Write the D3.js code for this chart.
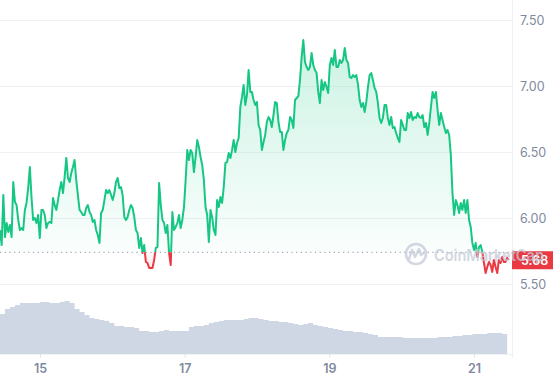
<!DOCTYPE html>
<html>
<head>
<meta charset="utf-8">
<script src="https://cdn.jsdelivr.net/npm/d3@7"></script>
<style>
body { margin: 0; background: #fff; }
svg { display: block; font-family: Inter, "Noto Sans", sans-serif; }
</style>
</head>
<body>
<div id="chart"></div>
<script>
// price every 33 minutes, starting 14 Jan 10:44
const prices = [
  5.909, 5.795, 6.174, 5.856, 5.962, 5.894, 5.947, 5.856, 6.273, 6.121,
  6.098, 5.985, 5.909, 5.924, 5.909, 6.061, 6.114, 6.227, 6.386, 6.159,
  5.985, 6.000, 5.962, 6.023, 5.848, 6.061, 6.061, 6.023, 5.924, 5.962,
  5.970, 5.962, 6.152, 6.098, 6.061, 6.136, 6.212, 6.273, 6.189, 6.311,
  6.455, 6.303, 6.273, 6.341, 6.386, 6.439, 6.288, 6.174, 6.061, 6.045,
  6.023, 6.023, 6.076, 6.098, 6.045, 6.023, 5.970, 5.985, 5.909, 5.871,
  5.811, 6.038, 6.061, 6.136, 6.212, 6.189, 6.212, 6.174, 6.136, 6.189,
  6.273, 6.303, 6.227, 6.235, 6.174, 6.008, 5.985, 6.008, 6.061, 6.098,
  6.076, 6.008, 5.909, 5.886, 5.773, 5.848, 5.735, 5.795, 5.667, 5.659,
  5.621, 5.621, 5.621, 5.682, 5.773, 5.780, 6.265, 6.098, 5.985, 5.962,
  5.886, 5.947, 5.735, 5.644, 6.045, 5.909, 5.932, 5.962, 6.023, 5.924,
  5.985, 6.083, 6.288, 6.515, 6.439, 6.515, 6.492, 6.348, 6.462, 6.591,
  6.538, 6.462, 6.402, 6.288, 6.083, 6.023, 5.818, 6.061, 6.008, 5.909,
  5.871, 6.136, 6.083, 6.159, 6.114, 6.235, 6.417, 6.424, 6.492, 6.455,
  6.515, 6.591, 6.500, 6.568, 6.606, 6.841, 6.917, 7.008, 6.856, 6.932,
  7.121, 6.955, 6.955, 6.894, 6.856, 6.879, 6.705, 6.667, 6.515, 6.576,
  6.629, 6.727, 6.765, 6.742, 6.689, 6.780, 6.879, 6.871, 6.727, 6.652,
  6.652, 6.515, 6.591, 6.644, 6.667, 6.765, 6.742, 6.682, 6.894, 6.909,
  6.924, 7.045, 7.220, 7.348, 7.182, 7.144, 7.121, 7.144, 7.250, 7.159,
  7.121, 7.098, 6.955, 6.871, 7.045, 6.970, 7.030, 6.992, 6.947, 7.159,
  7.212, 7.159, 7.273, 7.144, 7.144, 7.197, 7.174, 7.197, 7.288, 7.197,
  7.174, 7.068, 7.061, 7.083, 7.068, 7.083, 7.008, 6.894, 6.841, 6.871,
  6.803, 6.879, 6.992, 7.083, 7.098, 7.045, 6.985, 6.955, 6.871, 6.758,
  6.720, 6.758, 6.856, 6.856, 6.758, 6.705, 6.765, 6.682, 6.689, 6.644,
  6.606, 6.576, 6.742, 6.705, 6.667, 6.667, 6.795, 6.758, 6.803, 6.742,
  6.765, 6.758, 6.795, 6.765, 6.758, 6.780, 6.689, 6.720, 6.629, 6.720,
  6.841, 6.955, 6.909, 6.955, 6.818, 6.705, 6.795, 6.742, 6.689, 6.644,
  6.667, 6.629, 6.477, 6.189, 6.023, 6.136, 6.098, 6.038, 6.114, 6.061,
  6.136, 6.038, 6.136, 5.985, 5.932, 5.811, 5.758, 5.811, 5.705, 5.780,
  5.795, 5.742, 5.659, 5.583, 5.629, 5.667, 5.644, 5.591, 5.682, 5.629,
  5.583, 5.682, 5.659, 5.705, 5.667, 5.667, 5.697, 5.682
];

// volume (M), every 99 minutes
const volumes = [
  40, 45, 47, 49, 51, 51, 51, 51, 52, 52, 51, 51, 52, 53, 51, 45, 42, 39, 36, 35,
  34, 33, 31, 28, 28, 27, 27, 26, 23, 23, 22, 22, 23, 24, 23, 23, 23, 23, 27, 28,
  28, 29, 31, 32, 33, 34, 34, 34, 34, 35, 36, 36, 35, 34, 33, 33, 32, 32, 31, 30,
  29, 30, 31, 29, 28, 27, 26, 25, 24, 23, 23, 22, 22, 21, 20, 19, 17, 17, 17, 17,
  17, 16, 16, 16, 16, 16, 16, 16, 17, 17, 17, 18, 18, 19, 19, 20, 20, 20, 21, 21,
  21, 20
];

const priceTicks = [5.5, 6.0, 6.5, 7.0, 7.5];
const dayTicks = [15, 17, 19, 21];
const openPrice = 5.74;
const lastPrice = 5.68;
const stepMin = 33;
const volStepMin = 99;
const startTime = Date.UTC(2024, 0, 14, 10, 44);
const endTime = Date.UTC(2024, 0, 21, 12, 38);

const green = '#16c784';
const red = '#ea3943';
const gridColor = '#eff2f5';
const textColor = '#808a9d';

const W = 553, H = 380;
const plotRight = 512;

const svg = d3.select('#chart').append('svg')
    .attr('width', W)
    .attr('height', H);

const x = d3.scaleUtc().domain([new Date(startTime), new Date(endTime)]).range([0, plotRight]);
const y = d3.scaleLinear().domain([5.5, 7.5]).range([284, 20]);
const yVol = d3.scaleLinear().domain([0, 60]).range([354, 294]);

const priceData = prices.map((p, i) => ({t: new Date(startTime + i * stepMin * 60000), p: p}));
const volData = volumes.map((v, i) => ({t: new Date(startTime + i * volStepMin * 60000), v: v}));
// last bar keeps its value until the end of its interval
volData.push({t: new Date(startTime + volumes.length * volStepMin * 60000), v: volumes[volumes.length - 1]});

const defs = svg.append('defs');
const baseY = y(openPrice);

const gGreen = defs.append('linearGradient').attr('id', 'gGreen')
    .attr('gradientUnits', 'userSpaceOnUse')
    .attr('x1', 0).attr('x2', 0).attr('y1', y(7.35)).attr('y2', baseY);
gGreen.append('stop').attr('offset', 0).attr('stop-color', green).attr('stop-opacity', 0.22);
gGreen.append('stop').attr('offset', 1).attr('stop-color', green).attr('stop-opacity', 0.02);

const gRed = defs.append('linearGradient').attr('id', 'gRed')
    .attr('gradientUnits', 'userSpaceOnUse')
    .attr('x1', 0).attr('x2', 0).attr('y1', baseY).attr('y2', y(5.55));
gRed.append('stop').attr('offset', 0).attr('stop-color', red).attr('stop-opacity', 0.02);
gRed.append('stop').attr('offset', 1).attr('stop-color', red).attr('stop-opacity', 0.15);

defs.append('clipPath').attr('id', 'above')
    .append('rect').attr('x', 0).attr('y', 0).attr('width', plotRight).attr('height', baseY);
defs.append('clipPath').attr('id', 'below')
    .append('rect').attr('x', 0).attr('y', baseY).attr('width', plotRight).attr('height', H - baseY);

// grid + right axis
const yAxis = svg.append('g')
    .attr('transform', `translate(${plotRight},0)`)
    .call(d3.axisRight(y).tickValues(priceTicks).tickFormat(d3.format('.2f'))
        .tickSize(-plotRight).tickPadding(8));
yAxis.select('.domain').remove();
yAxis.selectAll('line').attr('stroke', gridColor);
yAxis.selectAll('text').attr('fill', textColor).attr('font-size', 12.5)
    .attr('font-family', 'Inter, sans-serif');

// volume
svg.append('path')
    .datum(volData)
    .attr('fill', '#cfd6e4')
    .attr('d', d3.area().curve(d3.curveStepAfter)
        .x(d => x(d.t)).y0(yVol(0)).y1(d => yVol(d.v)));

// price areas
const area = d3.area().x(d => x(d.t)).y0(baseY).y1(d => y(d.p));
svg.append('path').datum(priceData).attr('clip-path', 'url(#above)')
    .attr('fill', 'url(#gGreen)').attr('d', area);
svg.append('path').datum(priceData).attr('clip-path', 'url(#below)')
    .attr('fill', 'url(#gRed)').attr('d', area);

// baseline
svg.append('line')
    .attr('x1', 0).attr('x2', plotRight).attr('y1', baseY).attr('y2', baseY)
    .attr('stroke', '#a1a7bb').attr('stroke-width', 1.2).attr('stroke-dasharray', '1.2 3.5');

// price lines
const line = d3.line().x(d => x(d.t)).y(d => y(d.p));
svg.append('path').datum(priceData).attr('clip-path', 'url(#above)')
    .attr('fill', 'none').attr('stroke', green).attr('stroke-width', 2)
    .attr('stroke-linejoin', 'round').attr('d', line);
svg.append('path').datum(priceData).attr('clip-path', 'url(#below)')
    .attr('fill', 'none').attr('stroke', red).attr('stroke-width', 2)
    .attr('stroke-linejoin', 'round').attr('d', line);

// x axis
const xAxis = svg.append('g')
    .attr('transform', `translate(0,${yVol(0)})`)
    .call(d3.axisBottom(x)
        .tickValues(dayTicks.map(d => new Date(Date.UTC(2024, 0, d))))
        .tickFormat(d3.utcFormat('%-d'))
        .tickSize(4).tickSizeOuter(0).tickPadding(6));
xAxis.select('.domain').attr('stroke', gridColor).attr('d', `M0,0.5H${plotRight}`);
xAxis.selectAll('line').attr('stroke', '#e3e7ee');
xAxis.selectAll('text').attr('fill', textColor).attr('font-size', 12.5)
    .attr('font-weight', 600).attr('font-family', 'Inter, sans-serif');

// right border
svg.append('line')
    .attr('x1', plotRight + 0.5).attr('x2', plotRight + 0.5).attr('y1', 0).attr('y2', yVol(0) + 4)
    .attr('stroke', gridColor);

// last price tag
const lastY = y(lastPrice);
svg.append('rect')
    .attr('x', plotRight).attr('y', lastY - 9).attr('width', W - plotRight).attr('height', 18)
    .attr('fill', red);
svg.append('text')
    .attr('x', plotRight + 9).attr('y', lastY).attr('dy', '0.35em')
    .attr('fill', '#fff').attr('font-size', 12.5).attr('font-weight', 600)
    .text(d3.format('.2f')(lastPrice));

// watermark
const wm = svg.append('g').attr('opacity', 0.75);
wm.append('circle').attr('cx', 416).attr('cy', 254).attr('r', 10)
    .attr('fill', 'none').attr('stroke', '#c3cad7').attr('stroke-width', 2.6);
wm.append('path')
    .attr('d', 'M409,259 L412,250 L415,257 L419,249 L421,255 L424,253')
    .attr('fill', 'none').attr('stroke', '#c3cad7').attr('stroke-width', 2.4)
    .attr('stroke-linejoin', 'round').attr('stroke-linecap', 'round');
wm.append('text')
    .attr('x', 434).attr('y', 261)
    .attr('font-size', 16.5).attr('font-weight', 600)
    .attr('fill', '#c3cad7')
    .attr('textLength', 110).attr('lengthAdjust', 'spacingAndGlyphs')
    .text('CoinMarketCap');
</script>
</body>
</html>
